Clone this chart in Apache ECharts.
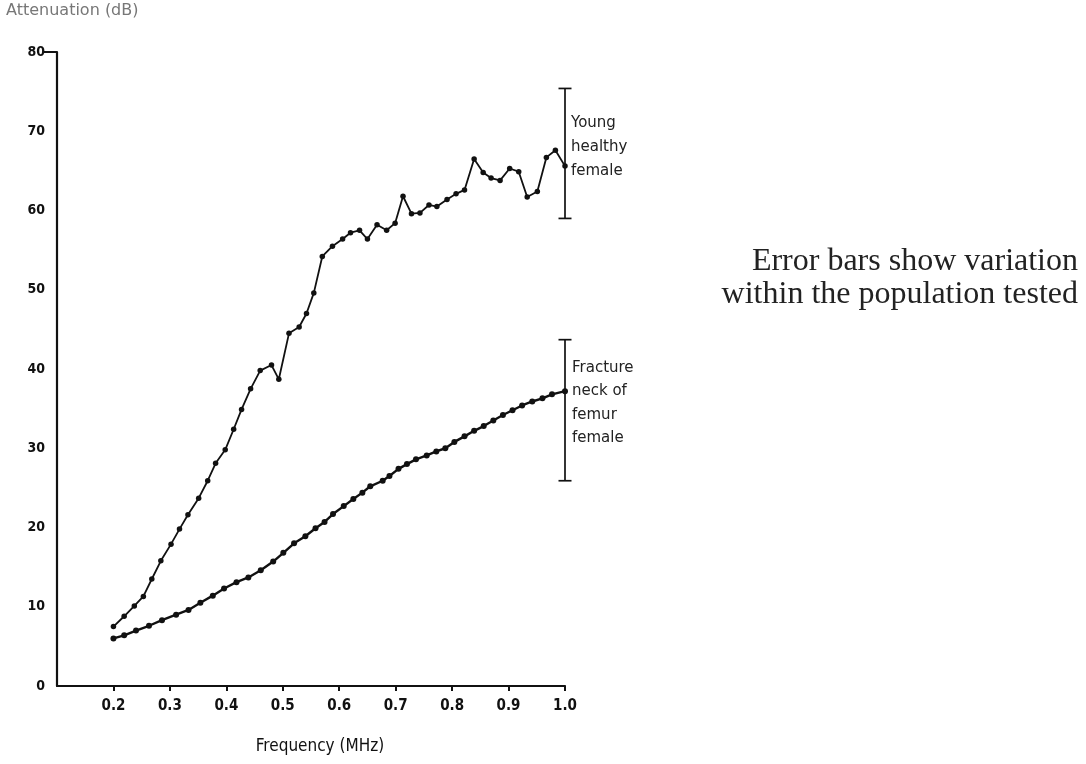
<!DOCTYPE html>
<html><head><meta charset="utf-8">
<script src="https://cdn.jsdelivr.net/npm/echarts@6/dist/echarts.min.js"></script>
<style>html,body{margin:0;padding:0;background:#fff}#c{width:1086px;height:764px}</style>
</head><body><div id="c"></div>
<script>
// ---- data ----
const youngFreq = [0.200,0.219,0.237,0.253,0.268,0.284,0.302,0.317,0.332,0.351,0.367,0.381,0.398,0.413,0.427,0.443,0.460,0.480,0.493,0.511,0.529,0.542,0.555,0.570,0.588,0.606,0.620,0.636,0.650,0.667,0.684,0.699,0.713,0.728,0.743,0.759,0.773,0.791,0.807,0.822,0.839,0.855,0.869,0.885,0.902,0.918,0.933,0.951,0.967,0.983,1.000];
const youngAtt  = [7.5,8.8,10.1,11.3,13.5,15.8,17.9,19.8,21.6,23.7,25.9,28.1,29.8,32.4,34.9,37.5,39.8,40.5,38.7,44.5,45.3,47.0,49.6,54.2,55.5,56.4,57.2,57.5,56.4,58.2,57.5,58.4,61.8,59.6,59.7,60.7,60.5,61.4,62.1,62.6,66.5,64.8,64.1,63.8,65.3,64.9,61.7,62.4,66.7,67.6,65.6];
const fractureFreq = [0.200,0.219,0.240,0.263,0.286,0.311,0.333,0.354,0.376,0.396,0.418,0.439,0.461,0.483,0.501,0.520,0.540,0.558,0.574,0.589,0.608,0.625,0.641,0.655,0.677,0.689,0.705,0.720,0.736,0.755,0.772,0.788,0.804,0.822,0.839,0.856,0.873,0.890,0.907,0.924,0.942,0.960,0.977,1.000];
const fractureAtt  = [6.0,6.4,7.0,7.6,8.3,9.0,9.6,10.5,11.4,12.3,13.1,13.7,14.6,15.7,16.8,18.0,18.9,19.9,20.7,21.7,22.7,23.6,24.4,25.2,25.9,26.5,27.4,28.0,28.6,29.1,29.6,30.0,30.8,31.5,32.2,32.8,33.5,34.2,34.8,35.4,35.9,36.3,36.8,37.2];
const errorFreq = [1.0, 1.0];
const errorLow  = [59.0, 25.9];
const errorHigh = [75.4, 43.7];
const xTickValues = [0.2,0.3,0.4,0.5,0.6,0.7,0.8,0.9,1.0];
const yTickValues = [0,10,20,30,40,50,60,70,80];

const zip = (a,b) => a.map((v,i)=>[v,b[i]]);
const chart = echarts.init(document.getElementById('c'), null, {renderer:'canvas'});
const labelFont = '"DejaVu Sans Condensed","DejaVu Sans",sans-serif';

chart.setOption({
  animation:false,
  backgroundColor:'#fff',
  grid:{left:57, right:521, top:52, bottom:78, containLabel:false},
  xAxis:{
    type:'value', min:0.1, max:1.0, interval:0.1,
    name:'Frequency (MHz)', nameLocation:'middle', nameGap:52,
    nameTextStyle:{fontFamily:labelFont, fontSize:17, color:'#111', padding:[0,0,0,18]},
    axisLine:{show:true, onZero:false, lineStyle:{color:'#111', width:2.2}},
    axisTick:{show:true, customValues:xTickValues, length:5, lineStyle:{color:'#111', width:2}},
    axisLabel:{customValues:xTickValues, formatter:v=>v.toFixed(1), margin:13,
      fontFamily:labelFont, fontWeight:'bold', fontSize:15, color:'#111'},
    splitLine:{show:false}
  },
  yAxis:{
    type:'value', min:0, max:80, interval:10,
    axisLine:{show:true, lineStyle:{color:'#111', width:2.2}},
    axisTick:{show:true, customValues:[80], length:13, lineStyle:{color:'#111', width:2}},
    axisLabel:{customValues:yTickValues, margin:12, fontFamily:labelFont, fontWeight:'bold', fontSize:14, color:'#111'},
    splitLine:{show:false}
  },
  series:[
    {type:'line', name:'Young healthy female', data:zip(youngFreq,youngAtt),
      symbol:'circle', symbolSize:5.5, lineStyle:{color:'#111', width:1.8},
      itemStyle:{color:'#111'}, clip:false},
    {type:'line', name:'Fracture neck of femur female', data:zip(fractureFreq,fractureAtt),
      symbol:'circle', symbolSize:6, lineStyle:{color:'#111', width:2.4},
      itemStyle:{color:'#111'}, clip:false},
    {type:'custom', name:'Error bars', clip:false,
      data:errorFreq.map((f,i)=>[f, errorLow[i], errorHigh[i]]),
      renderItem:(params, api)=>{
        const x = api.value(0);
        const p1 = api.coord([x, api.value(1)]);
        const p2 = api.coord([x, api.value(2)]);
        const w = 6.5, st = {stroke:'#111', lineWidth:1.7};
        return {type:'group', children:[
          {type:'line', shape:{x1:p1[0], y1:p1[1], x2:p2[0], y2:p2[1]}, style:st},
          {type:'line', shape:{x1:p1[0]-w, y1:p1[1], x2:p1[0]+w, y2:p1[1]}, style:st},
          {type:'line', shape:{x1:p2[0]-w, y1:p2[1], x2:p2[0]+w, y2:p2[1]}, style:st}
        ]};
      }}
  ],
  graphic:[
    {type:'text', left:6, top:3, style:{text:'Attenuation (dB)', font:'16px "DejaVu Sans", sans-serif', fill:'#777'}},
    {type:'text', x:571, y:111, style:{text:'Young\nhealthy\nfemale', font:'15px "DejaVu Sans", sans-serif', lineHeight:24, fill:'#222'}},
    {type:'text', x:572, y:356, style:{text:'Fracture\nneck of\nfemur\nfemale', font:'15px "DejaVu Sans", sans-serif', lineHeight:23.5, fill:'#222'}},
    {type:'text', x:1078, y:245, style:{text:'Error bars show variation\nwithin the population tested', font:'32px "Liberation Serif", "Times New Roman", serif', lineHeight:33, fill:'#222', align:'right'}}
  ]
});
</script></body></html>
